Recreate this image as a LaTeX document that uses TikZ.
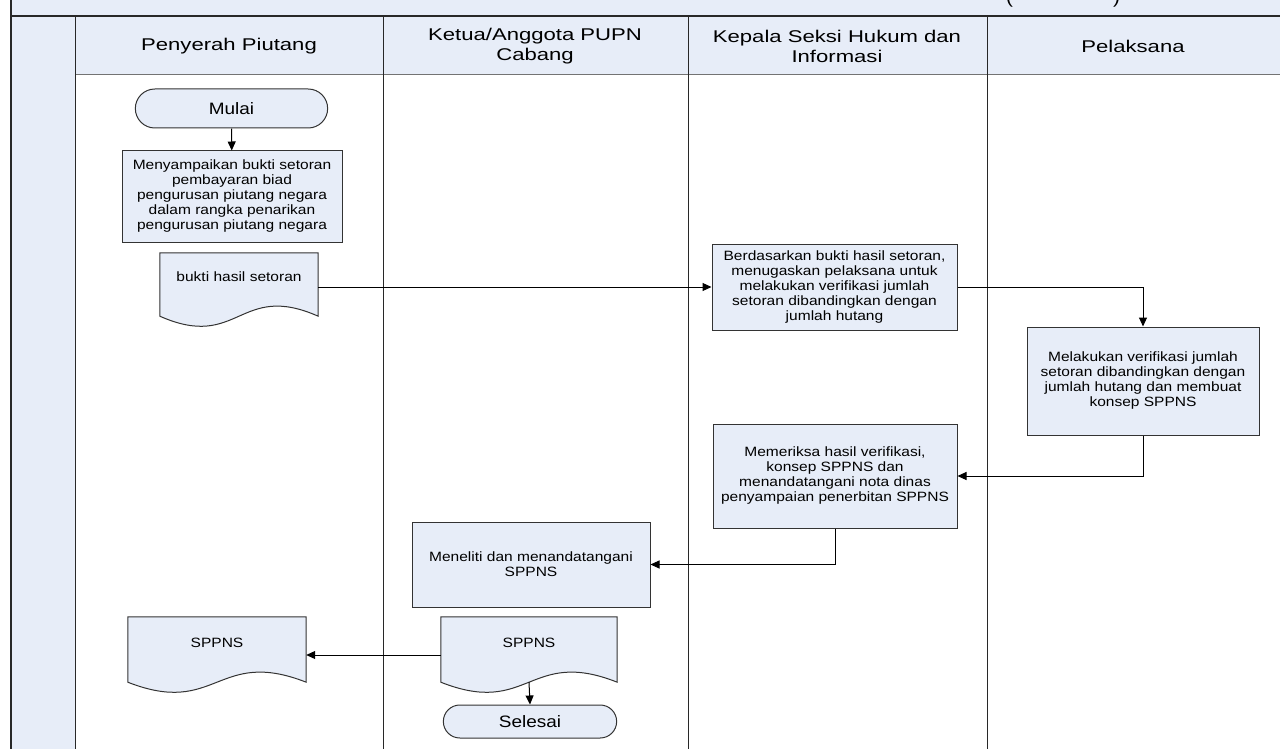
\documentclass[tikz,border=0pt]{standalone}
\usepackage{fontspec}
\setmainfont[FakeStretch=1.15]{Liberation Sans}
\newfontfamily\headfont[FakeStretch=1.3]{Liberation Sans}
\usetikzlibrary{arrows.meta,shapes.misc,calc,backgrounds}

\definecolor{lanefill}{RGB}{231,237,248}
\definecolor{laneline}{RGB}{40,40,40}

\tikzset{
  every node/.style={font=\fontsize{13.5}{15}\selectfont},
  procbox/.style={draw=black!80, fill=lanefill, line width=1pt, align=center, inner sep=2pt},
  termbox/.style={rounded rectangle, draw=black!80, fill=lanefill, line width=1pt,
    font=\fontsize{16.5}{18}\selectfont},
  doctext/.style={align=center, inner sep=0pt},
  lanehead/.style={align=center, font=\headfont\fontsize{17}{20}\selectfont},
  flow/.style={-{Triangle[length=9pt,width=8pt]}, line width=1pt},
}

% document symbol: outline below a text node, wave #2 under its south side
\newcommand{\docoutline}[2]{%
  \begin{pgfonlayer}{background}
  \draw[line width=1pt, draw=black!80, fill=lanefill] (#1.north west) -- (#1.north east)
    -- ([yshift=-#2]#1.south east)
    .. controls ($([yshift=-#2]#1.south)+(0,-35)$) and ($([yshift=-#2]#1.south)+(0,35)$)
    .. ([yshift=-#2]#1.south west) -- cycle;
  \end{pgfonlayer}}

\begin{document}
\begin{tikzpicture}[x=1pt,y=-1pt]
\useasboundingbox (0,0) rectangle (1280,749);

%Pool title strip (title cut off above)
\fill[lanefill] (11,-5) rectangle (1300,16);
\node[anchor=base, font=\fontsize{18}{20}\selectfont] (pooltitle) at (1063,4) {(\hspace*{100pt})};
%Left column and lane header row
\filldraw[fill=lanefill, draw=laneline, line width=1pt] (11,16) rectangle (75,770);
\fill[lanefill] (75,16) rectangle (1300,75);
\draw[black!55, line width=1pt] (75,75) -- (1300,75);
\foreach \x in {75,383,688,987}
  \draw[laneline, line width=1pt] (\x,16) -- (\x,770);
\draw[laneline, line width=2pt] (11,16) -- (1300,16);
\draw[laneline, line width=2pt] (11,-5) -- (11,770);

%Lane headers
\node[lanehead] (hpenyerah) at (229,46) {Penyerah Piutang};
\node[lanehead] (hketua) at (535,46) {Ketua/Anggota PUPN\\Cabang};
\node[lanehead] (hkepala) at (837,46) {Kepala Seksi Hukum dan\\Informasi};
\node[lanehead] (hpelaksana) at (1133,46) {Pelaksana};

%Shape: Terminator
\node[termbox, minimum width=199pt, minimum height=39pt] (mulai) at (231.5,108.5) {Mulai};
%Shape: Process
\node[procbox, minimum width=220pt, minimum height=91pt] (setor) at (232,196.5)
  {Menyampaikan bukti setoran\\pembayaran biad\\pengurusan piutang negara\\dalam rangka penarikan\\pengurusan piutang negara};
%Shape: Document
\node[doctext, minimum width=158pt, minimum height=48pt] (bukti) at (239,277) {bukti hasil setoran};
\docoutline{bukti}{15pt}

\node[procbox, minimum width=245pt, minimum height=86pt] (tugas) at (834.5,287)
  {Berdasarkan bukti hasil setoran,\\menugaskan pelaksana untuk\\melakukan verifikasi jumlah\\setoran dibandingkan dengan\\jumlah hutang};
\node[procbox, minimum width=232pt, minimum height=108pt] (verif) at (1143,381)
  {Melakukan verifikasi jumlah\\setoran dibandingkan dengan\\jumlah hutang dan membuat\\konsep SPPNS};
\node[procbox, minimum width=244pt, minimum height=104pt] (periksa) at (835,476)
  {Memeriksa hasil verifikasi,\\konsep SPPNS dan\\menandatangani nota dinas\\penyampaian penerbitan SPPNS};
\node[procbox, minimum width=238pt, minimum height=85pt] (teliti) at (531,564.5)
  {Meneliti dan menandatangani\\SPPNS};

%Shape: Document (SPPNS)
\node[doctext, minimum width=176pt, minimum height=52pt] (sppnsketua) at (529,643) {SPPNS};
\docoutline{sppnsketua}{13pt}
\node[doctext, minimum width=178pt, minimum height=52pt] (sppnspenyerah) at (217,643) {SPPNS};
\docoutline{sppnspenyerah}{13pt}

\node[termbox, minimum width=180pt, minimum height=33pt] (selesai) at (530,721.5) {Selesai};

%Connectors
\draw[flow] (mulai) -- (setor);
\draw[flow] (bukti.east |- tugas.west) -- (tugas.west);
\draw[flow] (tugas.east) -| (verif.north);
\draw[flow] (verif.south) |- (periksa.east);
\draw[flow] (periksa.south) |- (teliti.east);
\draw[flow] ([yshift=-12pt]sppnsketua.west) -- ([yshift=-12pt]sppnspenyerah.east);
\draw[flow] ([yshift=-13pt]sppnsketua.south) -- (selesai.north);

\end{tikzpicture}
\end{document}
